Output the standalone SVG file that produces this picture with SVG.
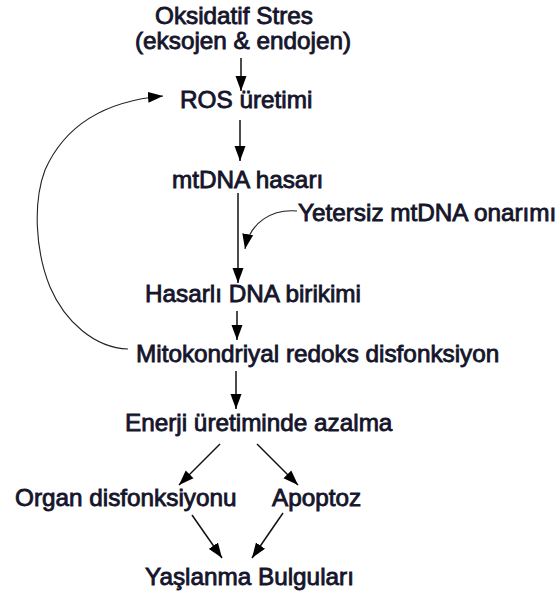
<svg xmlns="http://www.w3.org/2000/svg" width="557" height="601" viewBox="0 0 557 601">
<style>
.t{font-family:"Liberation Sans",Arial,sans-serif;font-size:24.3px;fill:#15152b;stroke:#15152b;stroke-width:0.85px}
.c{fill:none;stroke:#111;stroke-width:1.5}
.thin{fill:none;stroke:#222;stroke-width:1.1}
</style>
<defs>
<marker id="ah" markerUnits="userSpaceOnUse" markerWidth="16" markerHeight="12" refX="15" refY="5.5" orient="auto" viewBox="0 0 16 11">
<path d="M0,0 L15,5.5 L0,11 z" fill="#000"/>
</marker>
</defs>
<rect width="557" height="601" fill="#fff"/>
<g id="connectors">
<path class="c" d="M241,58 L241,91" marker-end="url(#ah)"/>
<path class="c" d="M240,120 L240,161" marker-end="url(#ah)"/>
<path class="c" d="M238,193 L238,283" stroke-width="2" marker-end="url(#ah)"/>
<path class="thin" d="M297,211 C272,209 250,222 245,249" marker-end="url(#ah)"/>
<path class="c" d="M237,311 L237,340" marker-end="url(#ah)"/>
<path class="c" d="M236,371 L236,409" marker-end="url(#ah)"/>
<path class="c" d="M220,444 L179,485" marker-end="url(#ah)"/>
<path class="c" d="M257,444 L298,485" marker-end="url(#ah)"/>
<path class="c" d="M192,515 L222,558" marker-end="url(#ah)"/>
<path class="c" d="M283,513 L252,558" marker-end="url(#ah)"/>
<path class="thin" d="M128,349 C95,348 65,322 50,287 C35,250 33,202 45,170 C65,125 105,101 163,96" marker-end="url(#ah)"/>
</g>
<g id="n1"><text class="t" x="155" y="24">Oksidatif Stres</text><text class="t" x="135" y="49">(eksojen &amp; endojen)</text></g>
<g id="n2"><text class="t" x="180" y="108">ROS üretimi</text></g>
<g id="n3"><text class="t" x="172" y="188">mtDNA hasarı</text></g>
<g id="n4"><text class="t" x="298" y="221">Yetersiz mtDNA onarımı</text></g>
<g id="n5"><text class="t" x="145" y="302">Hasarlı DNA birikimi</text></g>
<g id="n6"><text class="t" x="136" y="362">Mitokondriyal redoks disfonksiyon</text></g>
<g id="n7"><text class="t" x="125" y="431">Enerji üretiminde azalma</text></g>
<g id="n8"><text class="t" x="15" y="506">Organ disfonksiyonu</text></g>
<g id="n9"><text class="t" x="272" y="506">Apoptoz</text></g>
<g id="n10"><text class="t" x="145" y="585">Yaşlanma Bulguları</text></g>
</svg>
